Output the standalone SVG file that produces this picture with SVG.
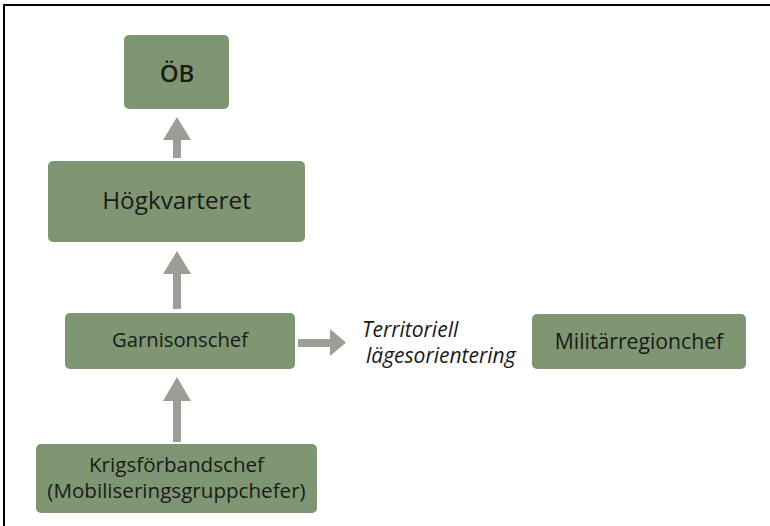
<svg xmlns="http://www.w3.org/2000/svg" width="770" height="526" viewBox="0 0 770 526">
<style>
.box{fill:#7f9672;}
.arr{fill:#9a9e95;}
.t{font-family:"Open Sans","Liberation Sans",sans-serif;fill:#1a1a1a;text-anchor:middle;}
.it{font-family:"Open Sans","Liberation Sans",sans-serif;fill:#1a1a1a;font-style:italic;font-size:21px;}
</style>
<rect width="770" height="526" fill="#ffffff"/>
<g id="frame" stroke="#000" stroke-width="2" fill="none">
<line x1="3" y1="5" x2="770" y2="5"/>
<line x1="4" y1="4" x2="4" y2="526"/>
</g>
<g id="connectors">
<polygon class="arr" points="163,140 177,117 191,140"/>
<rect class="arr" x="173" y="139" width="8" height="19"/>
<polygon class="arr" points="163,274 177,251 191,274"/>
<rect class="arr" x="173" y="273" width="8" height="36"/>
<polygon class="arr" points="163,401 177,377 191,401"/>
<rect class="arr" x="173" y="400" width="8" height="42"/>
<rect class="arr" x="298" y="339" width="33" height="8"/>
<polygon class="arr" points="330,329 346,342.5 330,356"/>
</g>
<g id="ob">
<rect class="box" x="124" y="35" width="105" height="74" rx="5"/>
<text class="t" x="177" y="82" font-size="24" font-weight="600">ÖB</text>
</g>
<g id="hogkvarteret">
<rect class="box" x="48" y="161" width="257" height="81" rx="5"/>
<text class="t" x="176.5" y="209" font-size="24.3">Högkvarteret</text>
</g>
<g id="garnisonschef">
<rect class="box" x="65" y="313" width="230" height="56" rx="5"/>
<text class="t" x="180" y="347" font-size="20.3">Garnisonschef</text>
</g>
<g id="label">
<text class="it" x="362" y="337">Territoriell</text>
<text class="it" x="366" y="363">lägesorientering</text>
</g>
<g id="militarregionchef">
<rect class="box" x="532" y="314" width="214" height="55" rx="5"/>
<text class="t" x="639" y="349" font-size="21.2">Militärregionchef</text>
</g>
<g id="krigsforbandschef">
<rect class="box" x="36" y="444" width="281" height="69" rx="5"/>
<text class="t" x="176.5" y="472" font-size="20.6">Krigsförbandschef</text>
<text class="t" x="176.5" y="498" font-size="20.6">(Mobiliseringsgruppchefer)</text>
</g>
</svg>
